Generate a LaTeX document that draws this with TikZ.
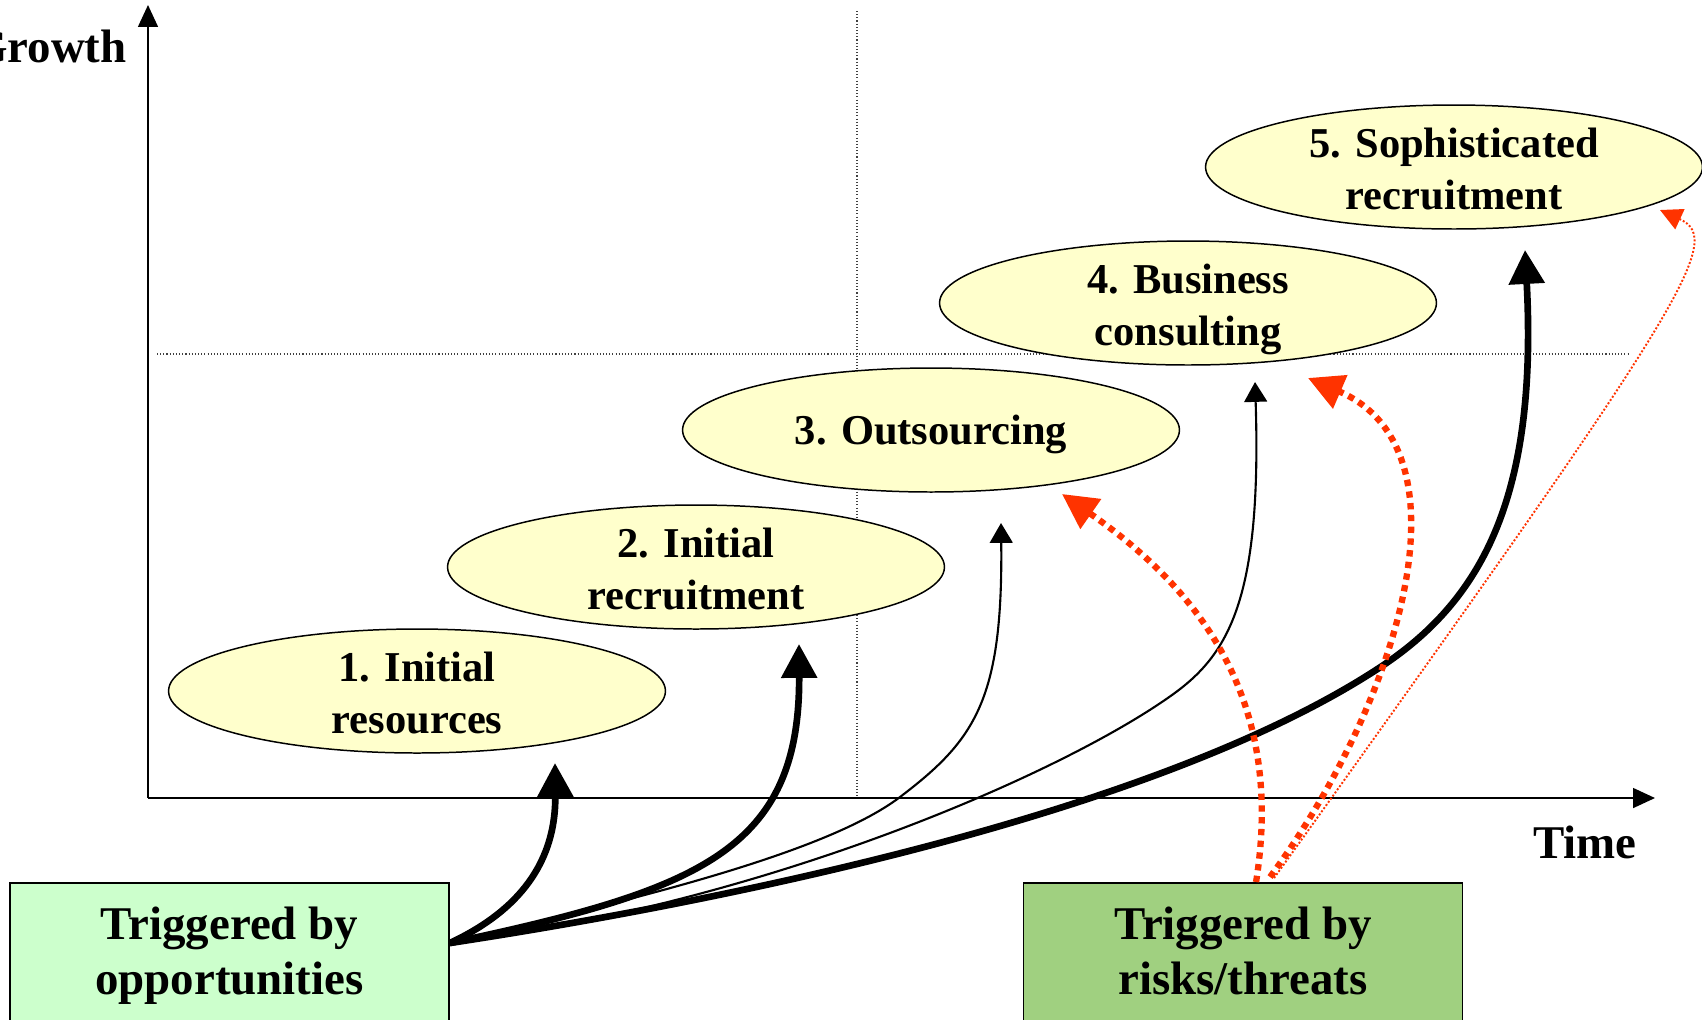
\documentclass[tikz,border=0pt]{standalone}
\usepackage{fontspec}
\setmainfont{Liberation Serif}
\usetikzlibrary{positioning, calc, shapes.geometric, arrows.meta}
\definecolor{stagefill}{HTML}{FFFFCC}
\definecolor{oppfill}{HTML}{CCFFCC}
\definecolor{riskfill}{HTML}{A0D080}
\definecolor{threat}{HTML}{FF3300}
\tikzset{
	stage/.style={
		ellipse,
		draw,
		line width=0.85pt,
		fill=stagefill,
		align=center,
		inner xsep=0pt,
		inner ysep=-3pt,
		text height=48.4pt,
		text depth=0pt,
		minimum width=9.94cm,
		minimum height=2.48cm,
		font={\fontsize{24.2pt}{29.6pt}\selectfont\bfseries}
	},
	trigger/.style={
		draw,
		line width=1pt,
		align=center,
		text height=41pt,
		text depth=0pt,
		minimum width=8.78cm,
		minimum height=3.04cm,
		font={\fontsize{26.7pt}{31.8pt}\selectfont\bfseries}
	},
	axislabel/.style={
		inner sep=0pt,
		font={\fontsize{26.7pt}{31.8pt}\selectfont\bfseries}
	},
	guide/.style={line width=0.6pt, black!75, dash pattern=on 0.6pt off 1.2pt},
	axis/.style={line width=1.1pt, -{Triangle[length=12.5pt,width=11.3pt]}},
	bigarrow/.style={line width=3.8pt, -{Triangle[length=19.3pt,width=19.8pt]}},
	smallarrow/.style={line width=1.2pt, -{Triangle[length=11.3pt,width=13pt]}},
	riskarrow/.style={threat, line width=3.6pt, dash pattern=on 3.6pt off 3.1pt,
		-{Triangle[length=20pt,width=20pt]}},
	weakrisk/.style={threat, line width=1.1pt, dash pattern=on 1.1pt off 1.1pt,
		-{Triangle[length=12.5pt,width=12.5pt]}}
}

\begin{document}
\begin{tikzpicture}[x=0.02cm, y=-0.02cm]
\useasboundingbox (0,0) rectangle (1702,1019);

\draw[guide] (857,11) -- (857,798);
\draw[guide] (157,354) -- (1629,354);

\coordinate (origin) at (148,798);
\draw[axis] (origin) -- (1655,798);
\draw[axis] (origin) -- (148,5);
\node[axislabel, anchor=base east] (growth) at (127,62) {Growth};
\node[axislabel, anchor=base] (time) at (1585,858) {Time};

\node[stage] (s1) at (417,691) {1. Initial\\resources};
\node[stage] (s2) at (696,567) {2. Initial\\recruitment};
\node[stage, text height=16pt] (s3) at (931,430) {3. Outsourcing};
\node[stage] (s4) at (1188,303) {4. Business\\consulting};
\node[stage] (s5) at (1454,167) {5. Sophisticated\\recruitment};

\node[trigger, fill=oppfill, anchor=north] (opp) at (229.5,882) {Triggered by\\opportunities};
\node[trigger, fill=riskfill, right=11.46cm of opp] (risk) {Triggered by\\risks/threats};

\coordinate (ostart) at ($(opp.north east)+(0,61)$);
\coordinate (rstart) at ($(risk.north)+(13,0)$);
\coordinate (t1) at (555,763);
\coordinate (t2) at (799,644);
\coordinate (t3) at (1001,523);
\coordinate (t4) at (1255,382);
\coordinate (t5) at (1525,250);
\coordinate (r1) at (1062,494);
\coordinate (r2) at (1308,378);
\coordinate (r3) at (1660,210);

\draw[bigarrow] (ostart) .. controls (510,915) and (556,870) .. (t1);
\draw[bigarrow] (ostart) .. controls (700,890) and (800,850) .. (t2);
\draw[smallarrow] (ostart) .. controls (599,907) and (820,858) .. (900,797)
	.. controls (975,740) and (1003,700) .. (t3);
\draw[smallarrow] (ostart) .. controls (760,905) and (1060,775) .. (1172,695)
	.. controls (1228,655) and (1262,600) .. (t4);
\draw[bigarrow] (ostart) .. controls (700,905) and (1150,818) .. (1379,668)
	.. controls (1480,602) and (1538,500) .. (t5);

\draw[riskarrow] (rstart) .. controls (1285,700) and (1200,590) .. (r1);
\draw[riskarrow] ($(rstart)+(14,-5)$) .. controls (1400,700) and (1475,450) .. (r2);
\draw[weakrisk] ($(rstart)+(18,-4)$) .. controls (1688,301) and (1725,240) .. (r3);
\end{tikzpicture}
\end{document}
